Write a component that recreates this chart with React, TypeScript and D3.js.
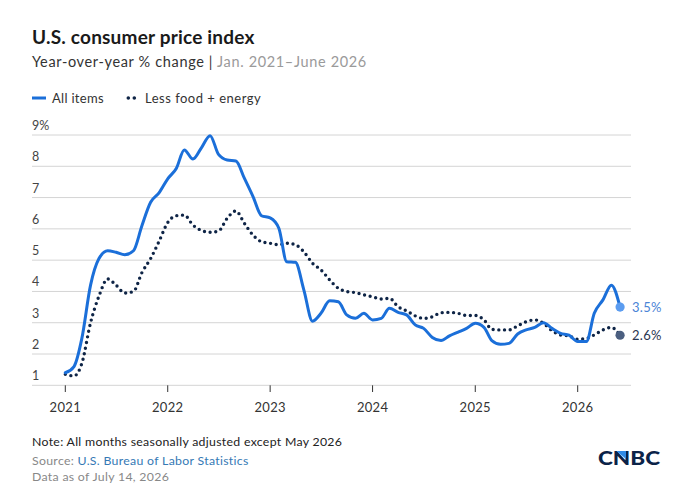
import React from "react";
import * as d3 from "d3";

// Monthly YoY % change, Jan 2021 – Jun 2026
const allItems = [
  1.4, 1.6, 2.5, 4.2, 5.05, 5.3, 5.25, 5.17, 5.3, 6.1, 6.85, 7.15,
  7.6, 7.94, 8.52, 8.23, 8.59, 8.98, 8.38, 8.2, 8.17, 7.62, 7.03, 6.42,
  6.35, 6.02, 4.95, 4.93, 4.05, 3.05, 3.3, 3.7, 3.67, 3.25, 3.14, 3.3,
  3.09, 3.14, 3.46, 3.33, 3.25, 2.93, 2.82, 2.53, 2.43, 2.58, 2.7, 2.82,
  2.98, 2.85, 2.43, 2.31, 2.34, 2.64, 2.77, 2.85, 3.0, 2.82, 2.66, 2.6,
  2.4, 2.4, 3.3, 3.73, 4.2, 3.5,
];
const lessFoodEnergy = [
  1.35, 1.3, 1.7, 3.0, 3.85, 4.4, 4.2, 3.95, 4.0, 4.6, 5.05, 5.6,
  6.2, 6.42, 6.44, 6.12, 5.95, 5.89, 5.93, 6.34, 6.57, 6.18, 5.8, 5.59,
  5.54, 5.49, 5.54, 5.49, 5.27, 4.9, 4.69, 4.37, 4.1, 4.0, 3.96, 3.89,
  3.83, 3.76, 3.78, 3.51, 3.38, 3.22, 3.14, 3.19, 3.32, 3.33, 3.3, 3.23,
  3.23, 3.09, 2.79, 2.77, 2.77, 2.9, 3.03, 3.09, 2.98, 2.75, 2.61, 2.58,
  2.47, 2.5, 2.61, 2.77, 2.85, 2.6,
];
const years = [2021, 2022, 2023, 2024, 2025, 2026];
const yTicks = [1, 2, 3, 4, 5, 6, 7, 8, 9];

const BLUE = "#1b6fd9";
const NAVY = "#0e2446";
const FONT = "Lato, 'Open Sans', sans-serif";

const month = (i: number) => new Date(Date.UTC(2021, i, 1));

export default function App() {
  const x = d3
    .scaleUtc()
    .domain([month(0), month(60)])
    .range([65.3, 577.7]);
  const y = d3.scaleLinear().domain([1, 9]).range([385.3, 135]);

  const line = d3
    .line<number>()
    .x((_, i) => x(month(i)))
    .y((d) => y(d))
    .curve(d3.curveMonotoneX);

  const lastI = allItems.length - 1;
  const ex = x(month(lastI));

  return (
    <svg
      width={685}
      height={504}
      style={{ position: "absolute", left: 0, top: 0, background: "#fff" }}
      fontFamily={FONT}
    >
      {/* header */}
      <text x={32} y={44} fontSize={19} fontWeight={700} fill="#1a1a1a" letterSpacing={0.2}>
        U.S. consumer price index
      </text>
      <text x={32} y={67} fontSize={14.5} fill="#333" letterSpacing={0.65}>
        Year-over-year % change |{" "}
        <tspan fill="#9a9a9a">Jan. 2021–June 2026</tspan>
      </text>

      {/* legend */}
      <line x1={32} x2={46} y1={98} y2={98} stroke={BLUE} strokeWidth={3} />
      <text x={52} y={102.5} fontSize={13} fill="#333" letterSpacing={0.3}>All items</text>
      <circle cx={128.3} cy={98} r={1.8} fill={NAVY} />
      <circle cx={134.3} cy={98} r={1.8} fill={NAVY} />
      <text x={145} y={102.5} fontSize={13} fill="#333" letterSpacing={0.5}>Less food + energy</text>

      {/* grid */}
      {yTicks.map((t) => (
        <g key={t}>
          <line x1={32} x2={631} y1={y(t)} y2={y(t)} stroke="#d4d4d4" strokeWidth={1} />
          <text x={32} y={y(t) - 5} fontSize={12.5} fill="#444">
            {t === 9 ? "9%" : t}
          </text>
        </g>
      ))}
      {years.map((yr) => (
        <g key={yr}>
          <line
            x1={x(new Date(Date.UTC(yr, 0, 1)))}
            x2={x(new Date(Date.UTC(yr, 0, 1)))}
            y1={385.3}
            y2={392}
            stroke="#333"
          />
          <text
            x={x(new Date(Date.UTC(yr, 0, 1)))}
            y={412}
            fontSize={13}
            fill="#333"
            textAnchor="middle"
            letterSpacing={0.3}
          >
            {yr}
          </text>
        </g>
      ))}

      {/* series */}
      <path
        d={line(lessFoodEnergy) || ""}
        fill="none"
        stroke={NAVY}
        strokeWidth={3.4}
        strokeLinecap="round"
        strokeDasharray="0 5.7"
      />
      <path
        d={line(allItems) || ""}
        fill="none"
        stroke={BLUE}
        strokeWidth={3}
        strokeLinecap="round"
        strokeLinejoin="round"
      />

      {/* end points */}
      <circle cx={ex} cy={y(allItems[lastI])} r={4.6} fill="#5b9cf0" />
      <circle cx={ex} cy={y(lessFoodEnergy[lastI])} r={4.6} fill="#4b5f80" />
      <text x={632} y={y(allItems[lastI]) + 4.5} fontSize={13} fill="#4a84d6" letterSpacing={0.3}>
        {allItems[lastI].toFixed(1)}%
      </text>
      <text x={632} y={y(lessFoodEnergy[lastI]) + 4.5} fontSize={13} fill="#2a3550" letterSpacing={0.3}>
        {lessFoodEnergy[lastI].toFixed(1)}%
      </text>

      {/* footer */}
      <g fontSize={12.3} letterSpacing={0.3}>
        <text x={32} y={445.5} fill="#222">
          Note: All months seasonally adjusted except May 2026
        </text>
        <text x={32} y={464.5} fill="#888">
          Source: <tspan fill="#3579b5">U.S. Bureau of Labor Statistics</tspan>
        </text>
        <text x={32} y={481} fill="#888">
          Data as of July 14, 2026
        </text>
      </g>

      {/* logo */}
      <text
        x={598}
        y={464.5}
        fontSize={18.5}
        fontWeight={900}
        fill="#0b2348"
        textLength={62}
        lengthAdjust="spacingAndGlyphs"
        fontFamily="Lato, sans-serif"
      >
        CNBC
      </text>
      <polygon points="616.5,451 626,451 626,459" fill="#2f8ae6" />
    </svg>
  );
}
